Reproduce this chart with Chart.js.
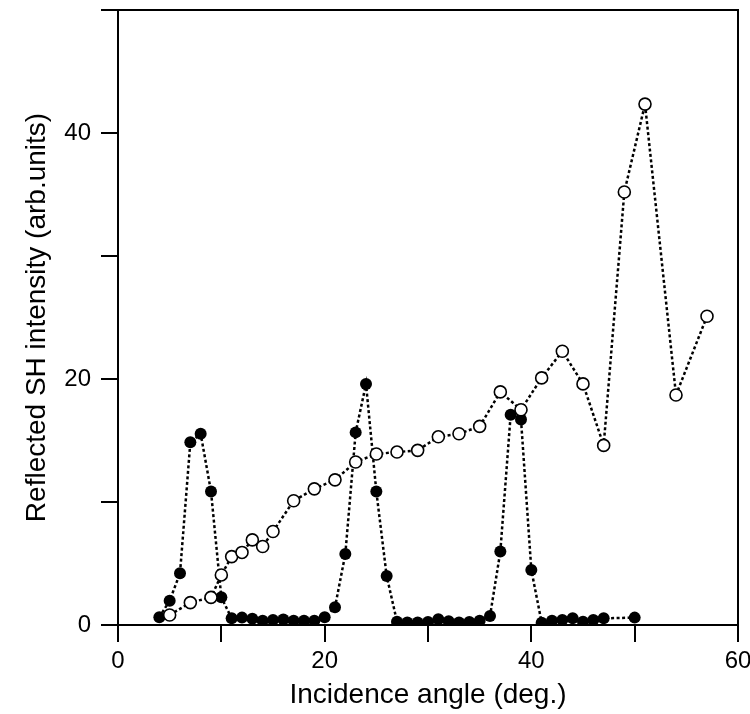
<!DOCTYPE html>
<html>
<head>
<meta charset="utf-8">
<script src="https://cdn.jsdelivr.net/npm/chart.js@4.4.1/dist/chart.umd.min.js"></script>
<style>
  html, body { margin: 0; padding: 0; background: #fff; }
</style>
</head>
<body>
<canvas id="myChart" width="750" height="714"></canvas>
<script>
// filled circles
const filledAngles = [4, 5, 6, 7, 8, 9, 10, 11, 12, 13, 14, 15, 16, 17, 18, 19, 20, 21, 22, 23, 24, 25, 26,
    27, 28, 29, 30, 31, 32, 33, 34, 35, 36, 37, 38, 39, 40, 41, 42, 43, 44, 45, 46, 47, 50];
const filledValues = [0.63, 1.98, 4.2, 14.85, 15.55, 10.86, 2.25, 0.54, 0.6, 0.5, 0.35, 0.4, 0.45, 0.35, 0.35, 0.35, 0.63, 1.44, 5.78, 15.66, 19.6, 10.86, 3.99,
    0.27, 0.2, 0.2, 0.25, 0.46, 0.3, 0.2, 0.25, 0.35, 0.73, 5.97, 17.1, 16.7, 4.48, 0.19, 0.35, 0.4, 0.54, 0.27, 0.4, 0.54, 0.6];

// open circles (with a dot in the middle)
const openAngles = [5, 7, 9, 10, 11, 12, 13, 14, 15, 17, 19, 21, 23, 25, 27, 29, 31, 33, 35, 37, 39, 41, 43, 45, 47, 49, 51, 54, 57];
const openValues = [0.81, 1.82, 2.25, 4.07, 5.56, 5.9, 6.92, 6.38, 7.6, 10.1, 11.07, 11.8, 13.25, 13.9, 14.06, 14.2, 15.3, 15.55, 16.15, 18.95, 17.5, 20.09, 22.26, 19.6, 14.6, 35.2, 42.35, 18.7, 25.1];

const xLabels = [0, 20, 40, 60];
const yLabels = [0, 20, 40];

const toPoints = (xs, ys) => xs.map((x, i) => ({x: x, y: ys[i]}));

const FONT = "'Liberation Sans', Arial, sans-serif";
const ctx = document.getElementById('myChart');

// fixed box sizes, no extra padding for overflowing labels
function fixBox(w, h) {
    return s => {
        if (w !== null) s.width = w;
        if (h !== null) s.height = h;
        s.paddingLeft = 0; s.paddingRight = 0; s.paddingTop = 0; s.paddingBottom = 0;
    };
}

var myChart = new Chart(ctx, {
    type: 'scatter',
    data: {
        datasets: [{
            label: 'open',
            data: toPoints(openAngles, openValues),
            showLine: true,
            borderColor: '#000',
            borderWidth: 2.5,
            borderDash: [3, 2.5],
            pointRadius: 6,
            pointBorderWidth: 1.6,
            pointBackgroundColor: '#fff',
            pointBorderColor: '#000'
        }, {
            label: 'open centre',
            data: toPoints(openAngles, openValues),
            showLine: false,
            pointRadius: 1.6,
            pointBorderWidth: 0,
            pointBackgroundColor: '#000'
        }, {
            label: 'filled',
            data: toPoints(filledAngles, filledValues),
            showLine: true,
            borderColor: '#000',
            borderWidth: 2.5,
            borderDash: [3, 2.5],
            pointRadius: 6,
            pointBorderWidth: 0,
            pointBackgroundColor: '#000'
        }]
    },
    options: {
        responsive: false,
        animation: false,
        devicePixelRatio: 1,
        layout: { padding: 0 },
        plugins: {
            legend: { display: false },
            tooltip: { enabled: false }
        },
        scales: {
            x: {
                type: 'linear',
                position: 'bottom',
                min: 0,
                max: 60,
                afterFit: fixBox(null, 89),
                ticks: {
                    stepSize: 10,
                    padding: 5,
                    color: '#000',
                    font: { family: FONT, size: 24 },
                    maxRotation: 0,
                    callback: v => xLabels.includes(v) ? String(v) : ''
                },
                grid: { drawOnChartArea: false, drawTicks: true, tickLength: 17, color: '#000', lineWidth: 2 },
                border: { display: true, color: '#000', width: 2 },
                title: {
                    display: true,
                    text: 'Incidence angle (deg.)',
                    color: '#000',
                    font: { family: FONT, size: 28 },
                    padding: { top: 0, bottom: 2 }
                }
            },
            y: {
                position: 'left',
                min: 0,
                max: 50,
                afterFit: fixBox(118, null),
                ticks: {
                    stepSize: 10,
                    padding: 10,
                    color: '#000',
                    font: { family: FONT, size: 24 },
                    callback: v => yLabels.includes(v) ? String(v) : ''
                },
                grid: { drawOnChartArea: false, drawTicks: true, tickLength: 17, color: '#000', lineWidth: 2 },
                border: { display: true, color: '#000', width: 2 },
                title: {
                    display: true,
                    text: 'Reflected SH intensity (arb.units)',
                    color: '#000',
                    font: { family: FONT, size: 28 },
                    padding: { top: 20, bottom: 0 }
                }
            },
            xTop: {
                type: 'linear',
                position: 'top',
                min: 0,
                max: 60,
                afterFit: fixBox(null, 10),
                ticks: { display: false },
                grid: { display: false, drawTicks: false },
                border: { display: true, color: '#000', width: 2 }
            },
            yRight: {
                position: 'right',
                min: 0,
                max: 50,
                afterFit: fixBox(12, null),
                ticks: { display: false },
                grid: { display: false, drawTicks: false },
                border: { display: true, color: '#000', width: 2 }
            }
        }
    }
});
</script>
</body>
</html>
